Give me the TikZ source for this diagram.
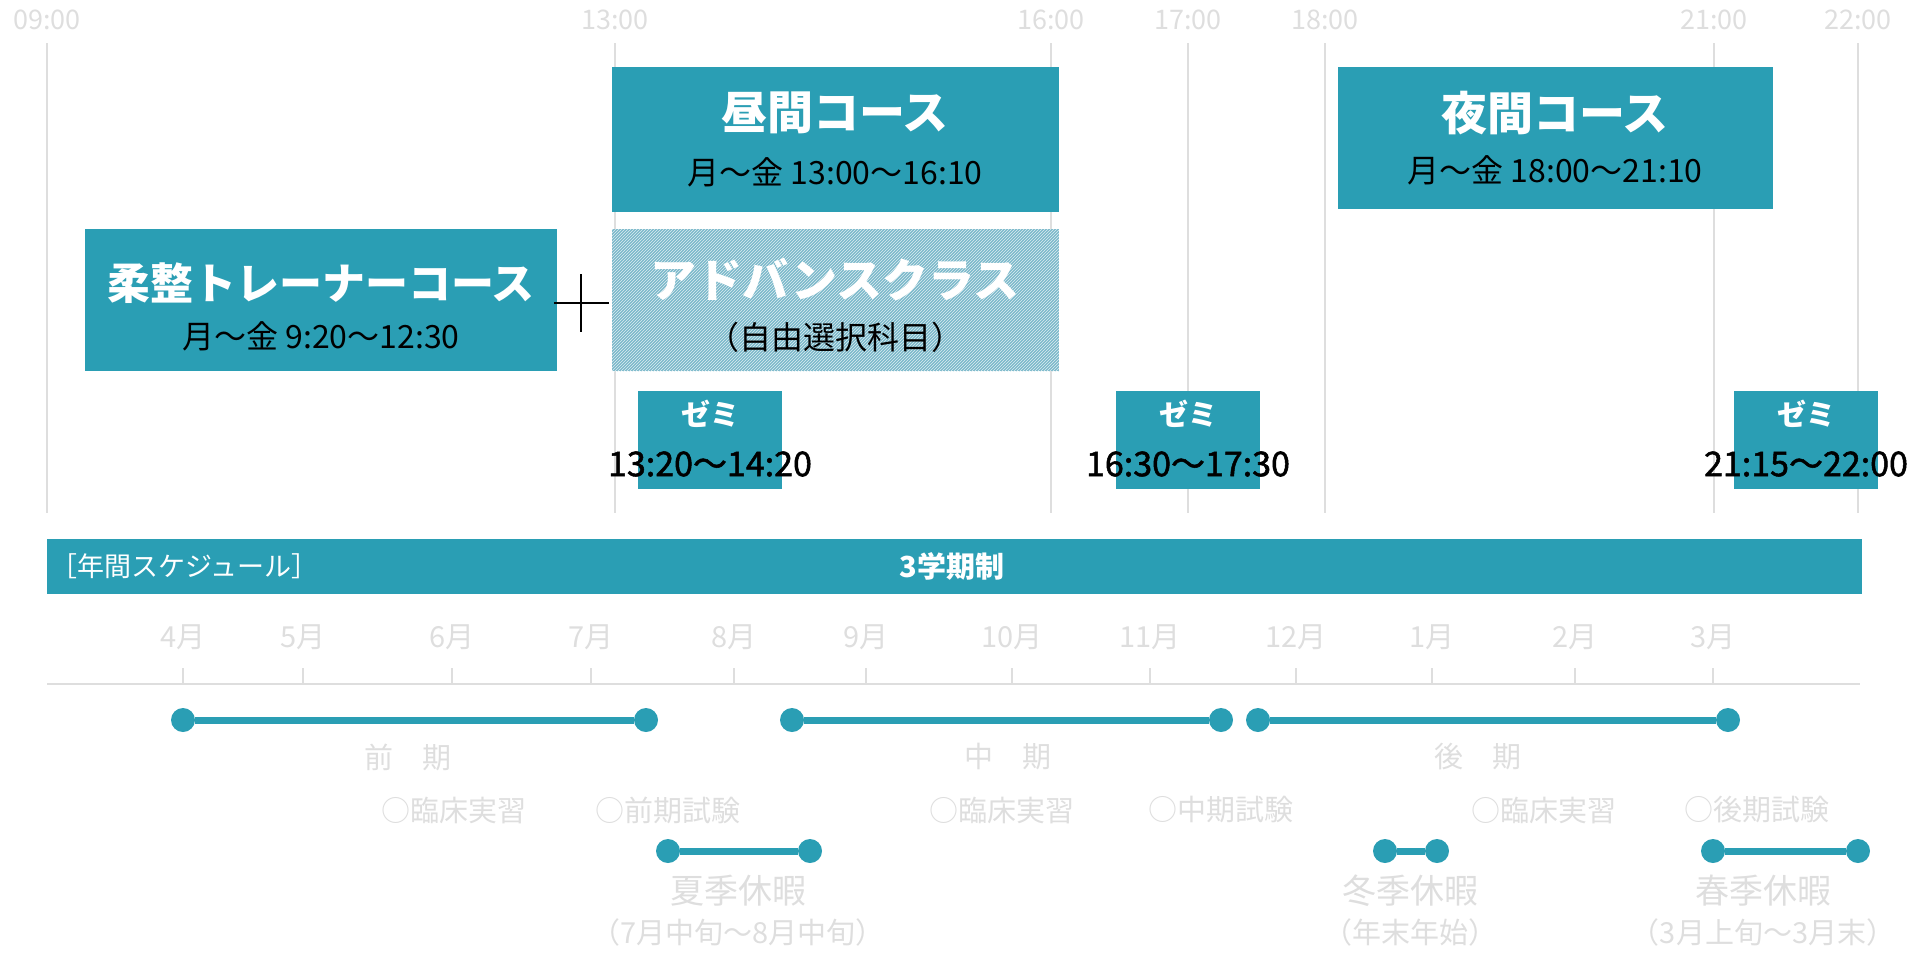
\documentclass[tikz,border=0pt]{standalone}
\usepackage{fontspec}
\setmainfont{Noto Sans CJK JP}
\newfontfamily\jpbold{Noto Sans CJK JP}[FakeBold=1.5]
\usetikzlibrary{patterns}
\definecolor{courseblue}{RGB}{42,158,180}
\definecolor{lightteal}{RGB}{122,184,202}
\definecolor{faint}{RGB}{222,222,222}
\tikzset{every picture/.style={line width=0.75pt}}

\begin{document}
\begin{tikzpicture}[x=1pt,y=1pt,yscale=-1,
  course/.style={fill=courseblue, draw=none},
  title/.style={text=white, font=\fontsize{46}{50}\selectfont\bfseries},
  hours/.style={text=black, font=\fontsize{32}{36}\selectfont},
  tlabel/.style={text=faint, font=\fontsize{27}{30}\selectfont},
  mlabel/.style={text=faint, font=\fontsize{29}{32}\selectfont},
  termline/.style={courseblue, line width=7pt},
  dot/.style={circle, fill=courseblue, inner sep=0pt, minimum size=24pt}]
\useasboundingbox (0,0) rectangle (1930,956);

% hour grid
\foreach \x/\t in {47/09:00, 615/13:00, 1051/16:00, 1188/17:00, 1325/18:00, 1714/21:00, 1858/22:00}{
  \node[tlabel] (h\x) at (\x,20) {\t};
  \draw[faint, line width=1.5pt] (\x,43) -- (\x,513);
}

% courses
\fill[course] (612,67) rectangle (1059,212);
\node[title] (day) at (835,113) {昼間コース};
\node[hours] (dayh) at (835,172) {月～金 13:00～16:10};
\fill[course] (1338,67) rectangle (1773,209);
\node[title] (night) at (1555,113) {夜間コース};
\node[hours] (nighth) at (1555,170) {月～金 18:00～21:10};
\fill[course] (85,229) rectangle (557,371);
\node[title, font=\fontsize{43}{46}\selectfont\bfseries] (trainer) at (321,283) {柔整トレーナーコース};
\node[hours] (trainerh) at (321,336) {月～金 9:20～12:30};
\fill[lightteal] (612,229) rectangle (1059,371);
\fill[pattern=north east lines, pattern color=white!75!lightteal] (612,229) rectangle (1059,371);
\node[title] (adv) at (835,280) {アドバンスクラス};
\node[hours] (advh) at (835,337) {（自由選択科目）};
\draw[line width=2.5pt] (554,303) -- (609,303) (581,274) -- (581,332);

% seminars
\foreach \x/\t in {710/13:20～14:20, 1188/16:30～17:30, 1806/21:15～22:00}{
  \fill[course] (\x-72,391) rectangle (\x+72,489);
  \node[text=white, font=\fontsize{29}{32}\selectfont\bfseries] (z\x) at (\x,414) {ゼミ};
  \node[font=\fontsize{34}{38}\jpbold] (zt\x) at (\x,464) {\t};
}

% year bar
\fill[course] (47,539) rectangle (1862,594);
\node[text=white, anchor=west, font=\fontsize{27}{30}\selectfont] (year) at (47,566) {［年間スケジュール］};
\node[text=white, font=\fontsize{29}{32}\selectfont\bfseries] (three) at (952,566) {3学期制};

% months
\draw[faint, line width=2pt] (47,684) -- (1860,684);
\foreach \x/\m in {183/4, 303/5, 452/6, 591/7, 734/8, 866/9, 1012/10, 1150/11, 1296/12, 1432/1, 1575/2, 1713/3}{
  \node[mlabel] (m\x) at (\x,637) {\m 月};
  \draw[faint, line width=2pt] (\x,668) -- (\x,684);
}

% terms
\foreach \a/\b/\y in {183/646/720, 792/1221/720, 1258/1728/720, 668/810/851, 1385/1437/851, 1713/1858/851}{
  \node[dot] (s\a) at (\a,\y) {};
  \node[dot] (e\a) at (\b,\y) {};
  \draw[termline] (s\a) -- (e\a);
}
\node[mlabel] (t1) at (408,757) {前\quad 期};
\node[mlabel] (t2) at (1008,757) {中\quad 期};
\node[mlabel] (t3) at (1478,757) {後\quad 期};
\node[mlabel] (p1) at (454,810) {○臨床実習};
\node[mlabel] (x1) at (668,810) {○前期試験};
\node[mlabel] (p2) at (1002,810) {○臨床実習};
\node[mlabel] (x2) at (1221,810) {○中期試験};
\node[mlabel] (p3) at (1544,810) {○臨床実習};
\node[mlabel] (x3) at (1757,810) {○後期試験};
\node[mlabel, font=\fontsize{34}{38}\selectfont] (v1) at (738,891) {夏季休暇};
\node[mlabel] (v1s) at (738,932) {（7月中旬～8月中旬）};
\node[mlabel, font=\fontsize{34}{38}\selectfont] (v2) at (1410,891) {冬季休暇};
\node[mlabel] (v2s) at (1410,932) {（年末年始）};
\node[mlabel, font=\fontsize{34}{38}\selectfont] (v3) at (1763,891) {春季休暇};
\node[mlabel] (v3s) at (1763,932) {（3月上旬～3月末）};
\end{tikzpicture}
\end{document}
